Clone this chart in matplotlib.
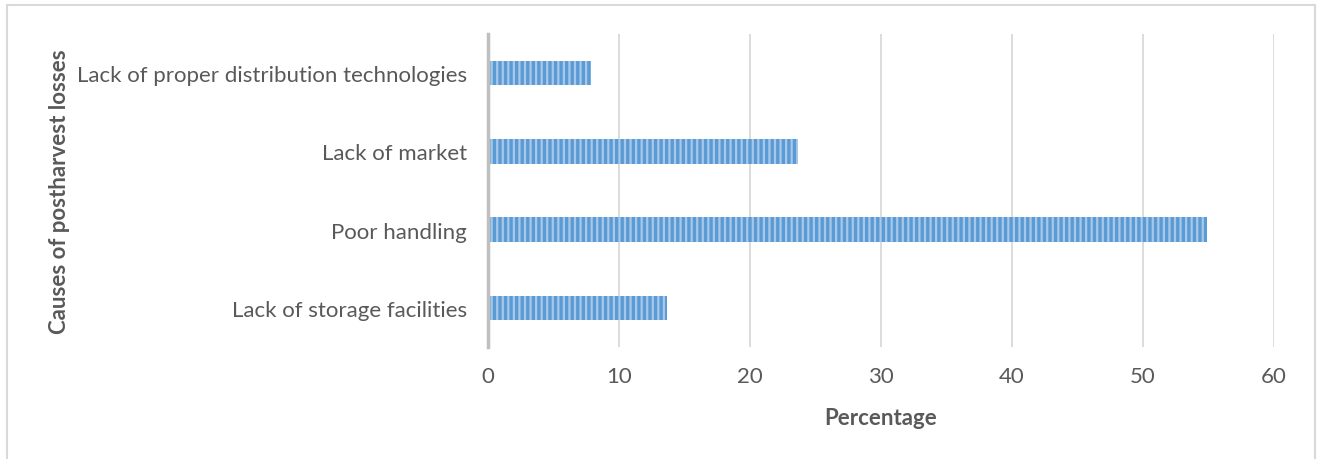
import matplotlib.pyplot as plt
from matplotlib.patches import Rectangle

causes = ['Lack of storage facilities', 'Poor handling', 'Lack of market',
          'Lack of proper distribution technologies']
percent = [13.7, 54.9, 23.7, 7.9]
xticks = [0, 10, 20, 30, 40, 50, 60]

plt.rcParams['font.family'] = ['Lato', 'DejaVu Sans']
plt.rcParams['hatch.linewidth'] = 1.6

fig = plt.figure(figsize=(13.22, 4.6), dpi=100)
ax = fig.add_axes([0.369, 0.2435, 0.5947, 0.6804])

ax.barh(range(len(causes)), percent, height=0.31, color='#5B9BD5',
        edgecolor='#A7C8E9', hatch='|||', linewidth=0, zorder=2)

ax.set_xlim(0, 60)
ax.set_ylim(-0.5, len(causes) - 0.5)
ax.set_xticks(xticks)
ax.set_yticks(range(len(causes)))
ax.set_yticklabels(causes)
ax.tick_params(axis='both', length=0, labelsize=16, colors='#595959')
ax.tick_params(axis='x', pad=14)
ax.tick_params(axis='y', pad=15)
ax.grid(axis='x', color='#D9D9D9', linewidth=1.3, zorder=0)
for s in ['top', 'right', 'bottom']:
    ax.spines[s].set_visible(False)
ax.spines['left'].set_color('#BFBFBF')
ax.spines['left'].set_linewidth(2.5)
ax.spines['left'].set_zorder(3)

ax.set_xlabel('Percentage', fontsize=16, fontweight='bold', color='#595959', labelpad=15)
ax.set_ylabel('Causes of postharvest losses', fontsize=16, fontweight='bold',
              color='#595959')
ax.yaxis.set_label_coords(-0.532, 0.5)

# light frame around the chart
fig.patches.append(Rectangle((7 / 1322, -0.1), 1308 / 1322, 1.1 - 6 / 460,
                             transform=fig.transFigure, fill=False,
                             edgecolor='#D9D9D9', linewidth=1.5))

plt.savefig('out.png', dpi=100)
